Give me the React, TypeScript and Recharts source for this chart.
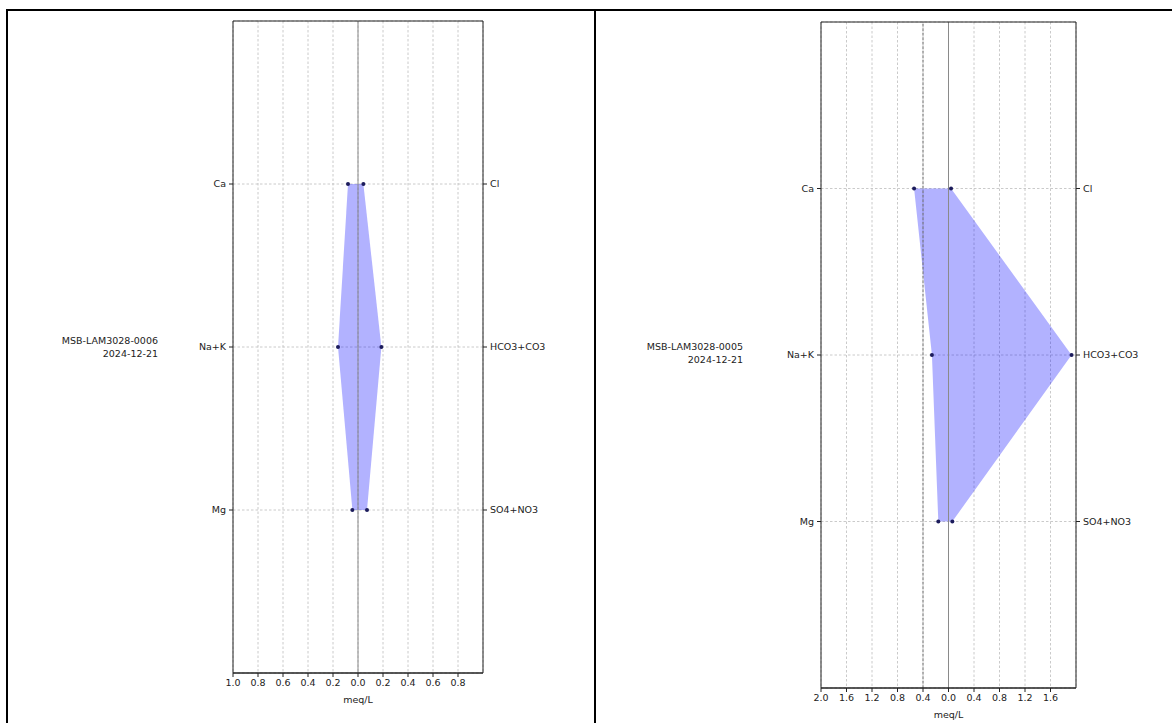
import { ComposedChart, Area, Line, XAxis, YAxis, CartesianGrid, ReferenceLine } from 'recharts';

const FONT = '"DejaVu Sans", sans-serif';
const INK = '#222';

// ion labels, top to bottom
const cations = ['Ca', 'Na+K', 'Mg'];
const anions = ['Cl', 'HCO3+CO3', 'SO4+NO3'];

// meq/L
const sample1Cations = [0.08, 0.16, 0.045];
const sample1Anions = [0.043, 0.187, 0.072];
const sample2Cations = [0.54, 0.26, 0.16];
const sample2Anions = [0.04, 1.93, 0.06];

const ticks1 = [-1.0, -0.8, -0.6, -0.4, -0.2, 0, 0.2, 0.4, 0.6, 0.8];
const ticks2 = [-2.0, -1.6, -1.2, -0.8, -0.4, 0, 0.4, 0.8, 1.2, 1.6];

function buildRows(cat: number[], an: number[]) {
  // vertical layout draws row 1 at the top (Ca / Cl)
  return cat.map((c, i) => ({
    row: i + 1,
    cat: -c,
    an: an[i],
    range: [-c, an[i]],
  }));
}

const tickStyle = { fontSize: 9.5, fill: INK, fontFamily: FONT };

interface StiffProps {
  left: number;
  top: number;
  plotW: number;
  plotH: number;
  domain: [number, number];
  ticks: number[];
  cat: number[];
  an: number[];
  darkLine?: number;
}

function Stiff({ left, top, plotW, plotH, domain, ticks, cat, an, darkLine }: StiffProps) {
  const data = buildRows(cat, an);
  const yl = 60;
  const yr = 72;
  const xh = 32;
  const mt = 5;
  return (
    <div style={{ position: 'absolute', left: left - yl, top: top - mt }}>
      <ComposedChart
        layout="vertical"
        width={plotW + yl + yr}
        height={plotH + mt + xh}
        data={data}
        margin={{ top: mt, right: 0, bottom: 0, left: 0 }}
      >
        <CartesianGrid yAxisId="left" stroke="#bdbdbd" strokeDasharray="2.5 2" strokeWidth={0.8} />
        <XAxis
          type="number"
          domain={domain}
          ticks={ticks}
          allowDataOverflow
          height={xh}
          tickSize={4}
          tickMargin={2}
          tick={tickStyle}
          stroke={INK}
          tickFormatter={(v: number) => Math.abs(v).toFixed(1)}
          label={{ value: 'meq/L', position: 'insideBottom', offset: 2, style: tickStyle }}
        />
        <YAxis
          yAxisId="left"
          type="number"
          dataKey="row"
          domain={[0, 4]}
          ticks={[1, 2, 3]}
          width={yl}
          tickSize={4}
          tickMargin={3}
          tick={tickStyle}
          stroke={INK}
          tickFormatter={(v: number) => cations[v - 1] ?? ''}
        />
        <YAxis
          yAxisId="right"
          orientation="right"
          type="number"
          dataKey="row"
          domain={[0, 4]}
          ticks={[1, 2, 3]}
          width={yr}
          tickSize={4}
          tickMargin={3}
          tick={tickStyle}
          stroke={INK}
          tickFormatter={(v: number) => anions[v - 1] ?? ''}
        />
        <ReferenceLine yAxisId="left" x={0} stroke="#8a8a8a" strokeWidth={1} />
        {darkLine !== undefined && (
          <ReferenceLine yAxisId="left" x={darkLine} stroke="#666" strokeDasharray="2.5 2" strokeWidth={1} />
        )}
        <ReferenceLine yAxisId="left" y={0} stroke={INK} strokeWidth={1} />
        <ReferenceLine yAxisId="left" y={4} stroke={INK} strokeWidth={1} />
        <Area
          yAxisId="left"
          dataKey="range"
          type="linear"
          fill="#0000ff"
          fillOpacity={0.3}
          stroke="none"
          isAnimationActive={false}
          activeDot={false}
        />
        <Line
          yAxisId="left"
          dataKey="cat"
          type="linear"
          stroke="none"
          dot={{ r: 2, fill: '#1c1c5c', stroke: 'none' }}
          activeDot={false}
          isAnimationActive={false}
        />
        <Line
          yAxisId="right"
          dataKey="an"
          type="linear"
          stroke="none"
          dot={{ r: 2, fill: '#1c1c5c', stroke: 'none' }}
          activeDot={false}
          isAnimationActive={false}
        />
      </ComposedChart>
    </div>
  );
}

function SampleLabel({ right, top, id, date }: { right: number; top: number; id: string; date: string }) {
  return (
    <div
      style={{
        position: 'absolute',
        left: right - 160,
        width: 160,
        top,
        textAlign: 'right',
        fontFamily: FONT,
        fontSize: 9.5,
        lineHeight: '12.5px',
        color: INK,
      }}
    >
      <div>{id}</div>
      <div>{date}</div>
    </div>
  );
}

export default function App() {
  return (
    <div style={{ position: 'absolute', left: 0, top: 0, width: 1172, height: 723, overflow: 'hidden', background: '#fff' }}>
      {/* table borders */}
      <div style={{ position: 'absolute', left: 6, top: 9, width: 1200, height: 2, background: '#000' }} />
      <div style={{ position: 'absolute', left: 6, top: 9, width: 2, height: 800, background: '#000' }} />
      <div style={{ position: 'absolute', left: 594, top: 9, width: 2, height: 800, background: '#000' }} />

      <SampleLabel right={158} top={335} id="MSB-LAM3028-0006" date="2024-12-21" />
      <Stiff
        left={233}
        top={21}
        plotW={250}
        plotH={652}
        domain={[-1, 1]}
        ticks={ticks1}
        cat={sample1Cations}
        an={sample1Anions}
      />

      <SampleLabel right={743} top={341} id="MSB-LAM3028-0005" date="2024-12-21" />
      <Stiff
        left={821}
        top={22}
        plotW={255}
        plotH={666}
        domain={[-2, 2]}
        ticks={ticks2}
        cat={sample2Cations}
        an={sample2Anions}
        darkLine={-0.4}
      />
    </div>
  );
}
